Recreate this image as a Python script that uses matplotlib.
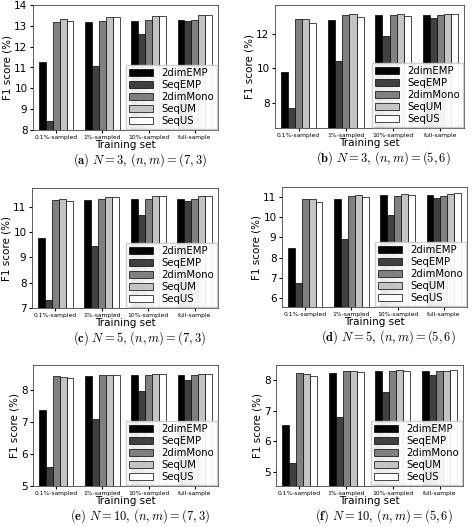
import matplotlib
matplotlib.use("Agg")
import matplotlib.pyplot as plt
import numpy as np

plt.rcParams["mathtext.fontset"] = "cm"

groups = ["0.1%-sampled", "1%-sampled", "10%-sampled", "full-sample"]
methods = ["2dimEMP", "SeqEMP", "2dimMono", "SeqUM", "SeqUS"]
colors = ["#000000", "#404040", "#808080", "#c4c4c4", "#ffffff"]

# panel (a) N=3, (7,3)
a_vals = [[11.28, 13.18, 13.25, 13.27],
          [8.45, 11.05, 12.60, 13.22],
          [13.20, 13.25, 13.27, 13.27],
          [13.33, 13.43, 13.45, 13.50],
          [13.22, 13.40, 13.47, 13.52]]
# panel (b) N=3, (5,6)
b_vals = [[9.82, 12.82, 13.08, 13.10],
          [7.70, 10.43, 11.90, 12.90],
          [12.87, 13.08, 13.10, 13.10],
          [12.85, 13.13, 13.15, 13.15],
          [12.65, 13.00, 13.05, 13.15]]
# panel (c) N=5, (7,3)
c_vals = [[9.75, 11.25, 11.30, 11.30],
          [7.33, 9.45, 10.68, 11.20],
          [11.27, 11.30, 11.30, 11.30],
          [11.28, 11.38, 11.40, 11.40],
          [11.22, 11.37, 11.42, 11.40]]
# panel (d) N=5, (5,6)
d_vals = [[8.50, 10.90, 11.08, 11.10],
          [6.75, 8.93, 10.13, 10.93],
          [10.92, 11.07, 11.07, 11.07],
          [10.90, 11.10, 11.13, 11.15],
          [10.78, 11.02, 11.10, 11.18]]
# panel (e) N=10, (7,3)
e_vals = [[7.37, 8.43, 8.46, 8.46],
          [5.60, 7.10, 7.97, 8.32],
          [8.44, 8.46, 8.46, 8.46],
          [8.41, 8.47, 8.50, 8.50],
          [8.38, 8.47, 8.50, 8.49]]
# panel (f) N=10, (5,6)
f_vals = [[6.53, 8.22, 8.30, 8.30],
          [5.28, 6.80, 7.60, 8.17],
          [8.22, 8.30, 8.30, 8.30],
          [8.18, 8.30, 8.32, 8.31],
          [8.13, 8.27, 8.28, 8.33]]

captions = [r"$\mathbf{(a)}\ N=3,\,(n,m)=(7,3)$",
            r"$\mathbf{(b)}\ N=3,\,(n,m)=(5,6)$",
            r"$\mathbf{(c)}\ N=5,\,(n,m)=(7,3)$",
            r"$\mathbf{(d)}\ N=5,\,(n,m)=(5,6)$",
            r"$\mathbf{(e)}\ N=10,\,(n,m)=(7,3)$",
            r"$\mathbf{(f)}\ N=10,\,(n,m)=(5,6)$"]

panels = [
    (a_vals, (8, 14), [8, 9, 10, 11, 12, 13, 14], (33, 5, 218, 130)),
    (b_vals, (6.56, 13.67), [8, 10, 12], (275, 5, 464, 128)),
    (c_vals, (7, 11.73), [7, 8, 9, 10, 11], (32, 188, 218, 308)),
    (d_vals, (5.55, 11.5), [6, 7, 8, 9, 10, 11], (282, 187, 467, 307)),
    (e_vals, (5, 8.78), [5, 6, 7, 8], (33, 365, 218, 486)),
    (f_vals, (4.53, 8.49), [5, 6, 7, 8], (276, 365, 463, 486)),
]

W, H = 474, 527
fig = plt.figure(figsize=(W / 100, H / 100), dpi=100)

x = np.arange(len(groups))
bw = 0.15
for (vals, ylim, yticks, box), cap in zip(panels, captions):
    x0, y0, x1, y1 = box
    ax = fig.add_axes([x0 / W, 1 - y1 / H, (x1 - x0) / W, (y1 - y0) / H])
    for i, (m, c) in enumerate(zip(methods, colors)):
        ax.bar(x + (i - 2) * bw, vals[i], bw, color=c, edgecolor="black",
               linewidth=0.5, label=m)
    ax.set_ylim(*ylim)
    ax.set_yticks(yticks)
    ax.set_xticks(x)
    ax.set_xticklabels(groups, fontsize=4.3)
    ax.tick_params(axis="y", labelsize=7.5, length=2.5, pad=1.5)
    ax.tick_params(axis="x", length=2, pad=1.5)
    ax.set_xlim(-0.5, 3.5)
    ax.set_xlabel("Training set", fontsize=7.5, labelpad=0)
    ax.set_ylabel("F1 score (%)", fontsize=7.5, labelpad=1)
    ax.legend(loc="lower right", fontsize=7.3, handlelength=2.4,
              borderaxespad=0.1, labelspacing=0.2, framealpha=0.92,
              fancybox=False, borderpad=0.3, edgecolor="#cccccc")
    for s in ax.spines.values():
        s.set_linewidth(0.6)
        s.set_color("#444444")
    fig.text((x0 + x1) / 2 / W + 0.03, 1 - (y1 + 34) / H, cap,
             fontsize=9, ha="center")

fig.savefig("out.png", dpi=100)
